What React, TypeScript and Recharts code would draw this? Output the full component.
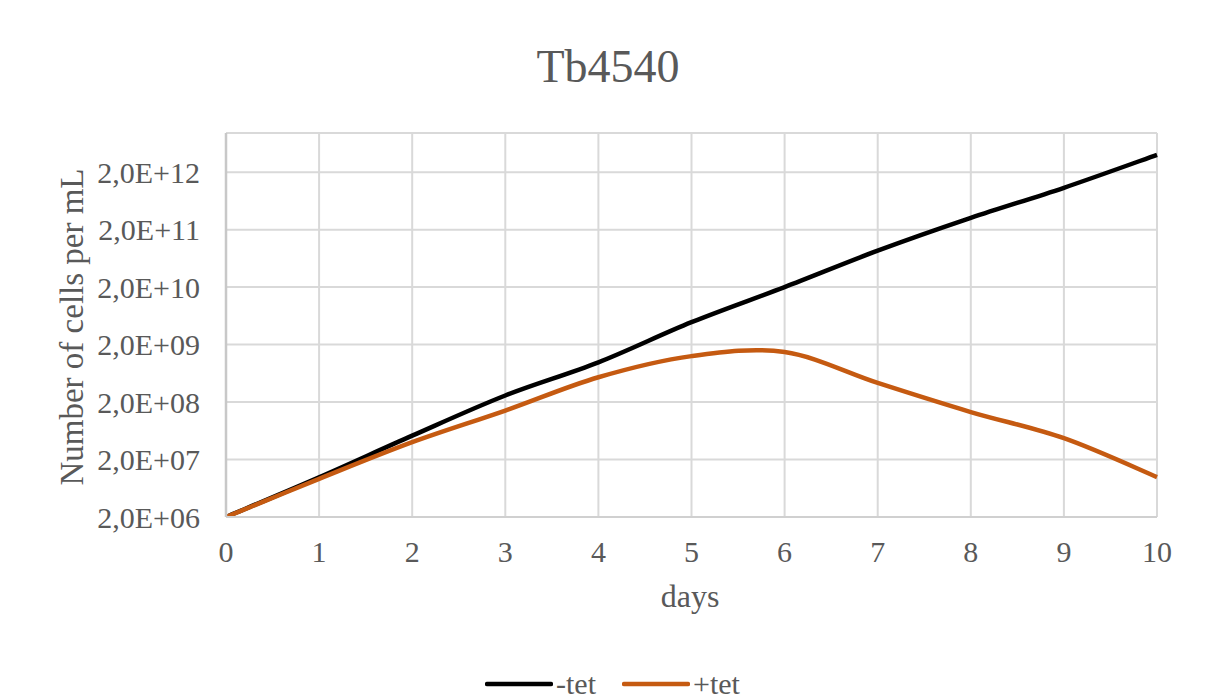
import React from 'react';
import { LineChart, Line, XAxis, YAxis, CartesianGrid, Legend } from 'recharts';

const days = [0, 1, 2, 3, 4, 5, 6, 7, 8, 9, 10];
const minusTet = [2.0e6, 9.8e6, 5.2e7, 2.6e8, 9.8e8, 4.9e9, 2.0e10, 8.6e10, 3.2e11, 1.07e12, 4.0e12];
const plusTet = [2.0e6, 9.2e6, 4.0e7, 1.42e8, 5.4e8, 1.26e9, 1.48e9, 4.3e8, 1.34e8, 4.7e7, 9.9e6];
const yTicks = [2e6, 2e7, 2e8, 2e9, 2e10, 2e11, 2e12];
const xTicks = [0, 1, 2, 3, 4, 5, 6, 7, 8, 9, 10];
const seriesNames = ['-tet', '+tet'];
const seriesColors = ['#000000', '#C55A11'];

const data = days.map((d, i) => ({ day: d, minus: minusTet[i], plus: plusTet[i] }));

const FONT = '"Liberation Serif", "Times New Roman", serif';
const TEXT = '#595959';

const fmtSci = (v: number) => {
  const e = Math.floor(Math.log10(v) + 1e-9);
  const m = v / Math.pow(10, e);
  return `${m.toFixed(1).replace('.', ',')}E+${String(e).padStart(2, '0')}`;
};

// Excel-like smoothing (Catmull-Rom via cubic Bezier)
const smoothCurve: any = (context: any) => {
  let xs: number[] = [];
  let ys: number[] = [];
  return {
    areaStart() {},
    areaEnd() {},
    lineStart() {
      xs = [];
      ys = [];
    },
    point(x: number, y: number) {
      xs.push(+x);
      ys.push(+y);
    },
    lineEnd() {
      const n = xs.length;
      if (!n) return;
      context.moveTo(xs[0], ys[0]);
      for (let i = 0; i < n - 1; i++) {
        const a = Math.max(i - 1, 0);
        const b = Math.min(i + 2, n - 1);
        const c1x = xs[i] + (xs[i + 1] - xs[a]) / 6;
        const c1y = ys[i] + (ys[i + 1] - ys[a]) / 6;
        const c2x = xs[i + 1] - (xs[b] - xs[i]) / 6;
        const c2y = ys[i + 1] - (ys[b] - ys[i]) / 6;
        context.bezierCurveTo(c1x, c1y, c2x, c2y, xs[i + 1], ys[i + 1]);
      }
    },
  };
};

const renderLegend = () => (
  <div style={{ position: 'relative', width: 1219, height: 30, fontFamily: FONT, fontSize: 30, color: TEXT }}>
    {seriesNames.map((name, i) => {
      const left = i === 0 ? 485 : 622;
      return (
        <div key={name} style={{ position: 'absolute', left, top: 0, height: 30, display: 'flex', alignItems: 'center' }}>
          <svg width={68} height={10} style={{ display: 'block' }}>
            <line x1={2} y1={5} x2={66} y2={5} stroke={seriesColors[i]} strokeWidth={4.5} strokeLinecap="round" />
          </svg>
          <span style={{ marginLeft: 3, lineHeight: '30px' }}>{name}</span>
        </div>
      );
    })}
  </div>
);

export default function App() {
  return (
    <div style={{ position: 'absolute', left: 0, top: 0, width: 1219, height: 700, background: '#ffffff' }}>
      <LineChart
        width={1219}
        height={700}
        data={data}
        margin={{ top: 133, right: 62, bottom: 0, left: 0 }}
      >
        <CartesianGrid stroke="#d9d9d9" strokeWidth={2} horizontal vertical />
        <XAxis
          dataKey="day"
          type="number"
          domain={[0, 10]}
          ticks={xTicks}
          interval={0}
          tickLine={false}
          tickSize={0}
          tickMargin={24}
          axisLine={{ stroke: '#d0d0d0', strokeWidth: 2 }}
          tick={{ fontFamily: FONT, fontSize: 30, fill: TEXT }}
          height={183}
        />
        <YAxis
          type="number"
          scale="log"
          domain={[2e6, 9.6e12]}
          allowDataOverflow
          ticks={yTicks}
          interval={0}
          tickFormatter={fmtSci}
          tickLine={false}
          tickSize={0}
          tickMargin={26}
          axisLine={{ stroke: '#c8c8c8', strokeWidth: 2.5 }}
          tick={{ fontFamily: FONT, fontSize: 30, fill: TEXT }}
          width={226}
        />
        <Line
          dataKey="minus"
          name={seriesNames[0]}
          type={smoothCurve}
          stroke={seriesColors[0]}
          strokeWidth={4.5}
          dot={false}
          activeDot={false}
          isAnimationActive={false}
        />
        <Line
          dataKey="plus"
          name={seriesNames[1]}
          type={smoothCurve}
          stroke={seriesColors[1]}
          strokeWidth={4.5}
          dot={false}
          activeDot={false}
          isAnimationActive={false}
        />
        <Legend
          content={renderLegend}
          verticalAlign="middle"
          align="center"
          wrapperStyle={{ position: 'absolute', left: 0, top: 669, width: 1219 }}
        />
      </LineChart>
      <svg
        width={1219}
        height={700}
        style={{ position: 'absolute', left: 0, top: 0, pointerEvents: 'none' }}
      >
        <text x={608} y={82} textAnchor="middle" fontFamily={FONT} fontSize={46} fill={TEXT}>
          Tb4540
        </text>
        <text
          transform="translate(83,327) rotate(-90)"
          textAnchor="middle"
          fontFamily={FONT}
          fontSize={33}
          fill={TEXT}
        >
          Number of cells per mL
        </text>
        <text x={690} y={607} textAnchor="middle" fontFamily={FONT} fontSize={32} fill={TEXT}>
          days
        </text>
      </svg>
    </div>
  );
}
